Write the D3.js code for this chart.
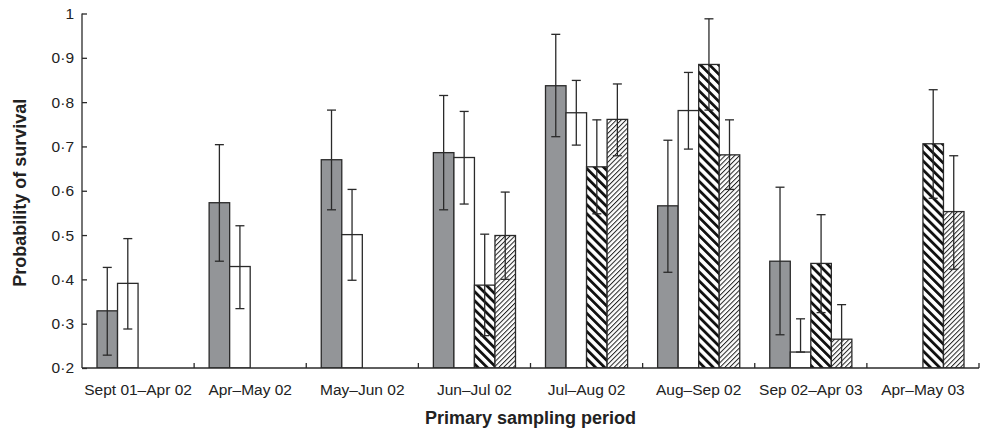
<!DOCTYPE html>
<html>
<head>
<script src="https://d3js.org/d3.v7.min.js"></script>
<style>
  body { margin: 0; background: #fff; }
  text { font-family: "Liberation Sans", Arial, sans-serif; fill: #222; }
</style>
</head>
<body>
<div id="chart"></div>
<script>
// Sampling periods (x categories)
const periods = ["Sept 01\u2013Apr 02", "Apr\u2013May 02", "May\u2013Jun 02", "Jun\u2013Jul 02",
                 "Jul\u2013Aug 02", "Aug\u2013Sep 02", "Sep 02\u2013Apr 03", "Apr\u2013May 03"];

// Series 1: grey bars
const greyVal  = [0.329, 0.573, 0.670, 0.686, 0.837, 0.566, 0.441, null];
const greyLow  = [0.229, 0.441, 0.557, 0.557, 0.722, 0.416, 0.275, null];
const greyHigh = [0.427, 0.704, 0.782, 0.815, 0.953, 0.714, 0.608, null];
// Series 2: white bars
const whiteVal  = [0.391, 0.429, 0.501, 0.675, 0.776, 0.781, 0.236, null];
const whiteLow  = [0.288, 0.334, 0.398, 0.570, 0.703, 0.694, 0.236, null];
const whiteHigh = [0.492, 0.521, 0.603, 0.779, 0.849, 0.867, 0.311, null];
// Series 3: bold hatch
const boldVal  = [null, null, null, 0.387, 0.654, 0.885, 0.436, 0.706];
const boldLow  = [null, null, null, 0.273, 0.548, 0.782, 0.325, 0.583];
const boldHigh = [null, null, null, 0.502, 0.760, 0.988, 0.546, 0.828];
// Series 4: fine hatch
const fineVal  = [null, null, null, 0.499, 0.761, 0.681, 0.265, 0.553];
const fineLow  = [null, null, null, 0.400, 0.679, 0.603, 0.180, 0.423];
const fineHigh = [null, null, null, 0.597, 0.841, 0.760, 0.343, 0.679];

const yTicks = [0.2, 0.3, 0.4, 0.5, 0.6, 0.7, 0.8, 0.9, 1];

const series = [
  { key: "grey",  fill: "#939598",          val: greyVal,  low: greyLow,  high: greyHigh },
  { key: "white", fill: "#ffffff",          val: whiteVal, low: whiteLow, high: whiteHigh },
  { key: "bold",  fill: "url(#hatchBold)",  val: boldVal,  low: boldLow,  high: boldHigh },
  { key: "fine",  fill: "url(#hatchFine)",  val: fineVal,  low: fineLow,  high: fineHigh }
];

const width = 981, height = 433;
const mLeft = 82, mRight = 979, mTop = 13.5, mBottom = 368;
const ink = "#2a2a2a";

const svg = d3.select("#chart").append("svg")
  .attr("width", width).attr("height", height);

// hatch patterns
const defs = svg.append("defs");
const pb = defs.append("pattern").attr("id", "hatchBold")
  .attr("patternUnits", "userSpaceOnUse").attr("width", 6.4).attr("height", 6.4)
  .attr("patternTransform", "rotate(-45)");
pb.append("rect").attr("width", 6.4).attr("height", 6.4).attr("fill", "#fff");
pb.append("rect").attr("width", 2.8).attr("height", 6.4).attr("fill", "#111");

const pf = defs.append("pattern").attr("id", "hatchFine")
  .attr("patternUnits", "userSpaceOnUse").attr("width", 3.4).attr("height", 3.4)
  .attr("patternTransform", "rotate(45)");
pf.append("rect").attr("width", 3.4).attr("height", 3.4).attr("fill", "#fff");
pf.append("rect").attr("width", 1).attr("height", 3.4).attr("fill", "#222");

defs.append("clipPath").attr("id", "plotClip")
  .append("rect").attr("x", mLeft).attr("y", 0).attr("width", mRight - mLeft).attr("height", mBottom);

const x = d3.scaleBand().domain(periods).range([mLeft, mRight]);
const bw = x.bandwidth();
const xs = d3.scaleBand().domain(series.map(s => s.key)).range([15, bw - 15]);
const y = d3.scaleLinear().domain([0.2, 1]).range([mBottom, mTop]);

// flatten bars
const bars = [];
series.forEach(s => {
  periods.forEach((p, i) => {
    if (s.val[i] != null) bars.push({ p, s, v: s.val[i], lo: s.low[i], hi: s.high[i] });
  });
});

const plot = svg.append("g").attr("clip-path", "url(#plotClip)");

plot.selectAll("rect.bar").data(bars).enter().append("rect")
  .attr("class", "bar")
  .attr("x", d => x(d.p) + xs(d.s.key))
  .attr("width", xs.bandwidth())
  .attr("y", d => y(d.v))
  .attr("height", d => mBottom - y(d.v))
  .attr("fill", d => d.s.fill)
  .attr("stroke", ink)
  .attr("stroke-width", 1.3);

// error bars
const cap = 4.5;
const cx = d => x(d.p) + xs(d.s.key) + xs.bandwidth() / 2;
const eb = plot.selectAll("g.err").data(bars).enter().append("g")
  .attr("stroke", ink).attr("stroke-width", 1.3);
eb.append("line")
  .attr("x1", cx).attr("x2", cx)
  .attr("y1", d => y(d.lo)).attr("y2", d => y(d.hi));
eb.append("line")
  .attr("x1", d => cx(d) - cap).attr("x2", d => cx(d) + cap)
  .attr("y1", d => y(d.hi)).attr("y2", d => y(d.hi));
eb.filter(d => d.lo >= 0.2).append("line")
  .attr("x1", d => cx(d) - cap).attr("x2", d => cx(d) + cap)
  .attr("y1", d => y(d.lo)).attr("y2", d => y(d.lo));

// y axis (ticks inside)
const yAxis = svg.append("g").attr("transform", `translate(${mLeft},0)`)
  .call(d3.axisRight(y).tickValues(yTicks).tickSize(5)
    .tickFormat(d => d === 1 ? "1" : d3.format(".1f")(d).replace(".", "\u00b7")));
yAxis.select(".domain").attr("stroke", ink).attr("stroke-width", 1.3).attr("d", `M0,${mTop}V${mBottom}`);
yAxis.selectAll(".tick line").attr("stroke", ink).attr("stroke-width", 1.3);
yAxis.selectAll(".tick text").attr("x", -8).attr("text-anchor", "end")
  .attr("font-size", 15.5).attr("fill", "#222");

// x axis: baseline, boundary ticks pointing up
svg.append("line").attr("x1", mLeft).attr("x2", mRight).attr("y1", mBottom).attr("y2", mBottom)
  .attr("stroke", ink).attr("stroke-width", 1.3);
svg.selectAll("line.xtick").data(periods).enter().append("line")
  .attr("class", "xtick")
  .attr("x1", d => x(d) + bw).attr("x2", d => x(d) + bw)
  .attr("y1", mBottom).attr("y2", mBottom - 5)
  .attr("stroke", ink).attr("stroke-width", 1.3);
svg.selectAll("text.xlab").data(periods).enter().append("text")
  .attr("class", "xlab")
  .attr("x", d => x(d) + bw / 2)
  .attr("y", 395)
  .attr("text-anchor", "middle")
  .attr("font-size", 15.5)
  .text(d => d);

// axis titles
svg.append("text").attr("x", (mLeft + mRight) / 2).attr("y", 424)
  .attr("text-anchor", "middle").attr("font-size", 18).attr("font-weight", "bold")
  .text("Primary sampling period");
svg.append("text").attr("transform", `translate(26,${(mTop + mBottom) / 2 + 2}) rotate(-90)`)
  .attr("text-anchor", "middle").attr("font-size", 18).attr("font-weight", "bold")
  .text("Probability of survival");
</script>
</body>
</html>
